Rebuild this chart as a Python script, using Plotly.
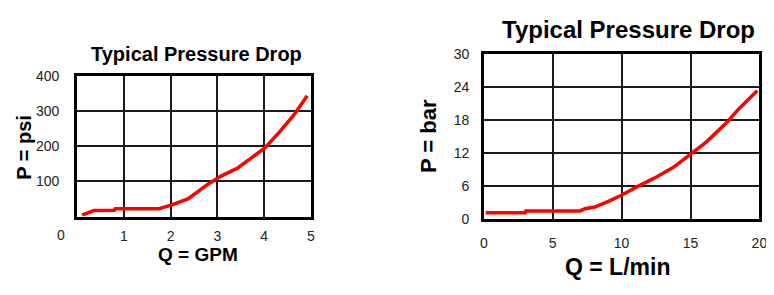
import plotly.graph_objects as go

# Left chart: Q (GPM) vs P (psi)
gpm = [0.11, 0.36, 0.80, 0.82, 1.75, 2.03, 2.38, 2.80, 3.08, 3.42, 3.70, 4.02, 4.33, 4.64, 4.92]
psi = [4, 17, 18, 22, 22, 33, 51, 92, 115, 137, 164, 196, 241, 290, 344]
gpm_ticks = [1, 2, 3, 4, 5]
psi_ticks = [100, 200, 300, 400]

# Right chart: Q (L/min) vs P (bar)
lpm = [0.14, 3.0, 3.05, 6.98, 7.34, 8.05, 9.0, 9.95, 11.14, 12.34, 13.76, 14.96, 16.14, 17.57, 18.5, 19.84]
bar = [1.15, 1.15, 1.5, 1.5, 1.9, 2.2, 3.2, 4.3, 5.9, 7.4, 9.4, 11.7, 14.0, 17.4, 20.0, 23.3]
lpm_ticks = [0, 5, 10, 15, 20]
bar_ticks = [0, 6, 12, 18, 24, 30]

# page is 774x295; the browser's default 8px body margin offsets the figure
OFF = 8
W, H = 774 - OFF, 295 - 2 * OFF
FONT = "Arial, Liberation Sans, sans-serif"

def px(x):
    return (x - OFF) / W

def py(y):
    return 1 - (y - OFF) / H

fig = go.Figure()
fig.add_trace(go.Scatter(x=gpm, y=psi, mode="lines", line=dict(color="#ff0000", width=3.5),
                         xaxis="x", yaxis="y", showlegend=False))
fig.add_trace(go.Scatter(x=lpm, y=bar, mode="lines", line=dict(color="#ff0000", width=3.5),
                         xaxis="x2", yaxis="y2", showlegend=False))

axis_common = dict(showline=True, linecolor="black", linewidth=2.5, mirror=True,
                   showgrid=True, gridcolor="#1a1a1a", gridwidth=1.5, zeroline=False,
                   ticks="outside", tickcolor="rgba(0,0,0,0)", fixedrange=True,
                   tickfont=dict(family=FONT, size=14, color="#222"))

fig.update_layout(
    width=W, height=H, margin=dict(l=0, r=0, t=0, b=0),
    paper_bgcolor="white", plot_bgcolor="white",
    xaxis=dict(domain=[px(74), px(311.7)], range=[0, 5], tickvals=gpm_ticks,
               ticktext=[str(v) for v in gpm_ticks], ticklen=5, anchor="y", **axis_common),
    yaxis=dict(domain=[py(220.7), py(71.7)], range=[0, 400], tickvals=psi_ticks,
               ticktext=[str(v) for v in psi_ticks], ticklen=12, anchor="x", **axis_common),
    xaxis2=dict(domain=[px(487.3), px(767.3)], range=[0, 20], tickvals=lpm_ticks,
                ticktext=[str(v) for v in lpm_ticks], ticklen=9, anchor="y2", **axis_common),
    yaxis2=dict(domain=[py(223.5), py(48.3)], range=[0, 30], tickvals=bar_ticks,
                ticktext=[str(v) for v in bar_ticks], ticklen=9, anchor="x2", **axis_common),
)

def ann(text, x, y, size, bold=True, angle=0):
    fig.add_annotation(text=f"<b>{text}</b>" if bold else text, xref="paper", yref="paper",
                       x=px(x), y=py(y), xanchor="center", yanchor="middle", showarrow=False,
                       textangle=angle, font=dict(family=FONT, size=size, color="black"))

ann("Typical Pressure Drop", 195, 48, 20)
ann("Typical Pressure Drop", 634, 22, 24)
ann("Q = GPM", 197, 261, 19)
ann("Q = L/min", 623, 274, 23)
ann("P = psi", 20, 147, 20, angle=-90)
ann("P = bar", 431, 135, 22, angle=-90)
fig.add_annotation(text="0", xref="paper", yref="paper", x=px(58), y=py(240),
                   xanchor="center", yanchor="middle", showarrow=False,
                   font=dict(family=FONT, size=14, color="#222"))

fig.write_html("out.html")
